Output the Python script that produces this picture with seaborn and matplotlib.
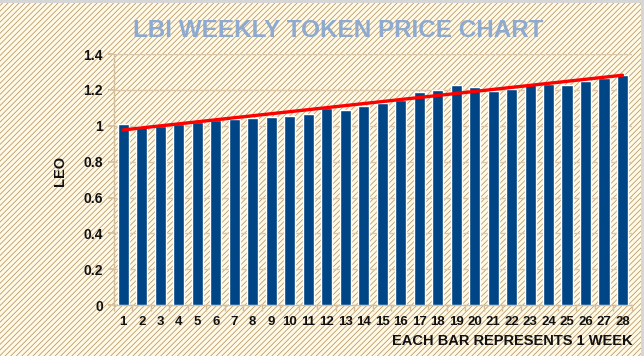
import numpy as np
import pandas as pd
import matplotlib
matplotlib.use("Agg")
import matplotlib.pyplot as plt
from matplotlib.patches import Rectangle
from matplotlib.ticker import FixedLocator
import seaborn as sns

weeks = [str(i) for i in range(1, 29)]
price = [1.01, 1.0, 1.0, 1.01, 1.02, 1.03, 1.04, 1.045, 1.05, 1.057,
         1.064, 1.098, 1.09, 1.112, 1.13, 1.145, 1.186, 1.2, 1.226, 1.219,
         1.195, 1.208, 1.235, 1.235, 1.226, 1.252, 1.266, 1.281]
yticks = [0, 0.2, 0.4, 0.6, 0.8, 1, 1.2, 1.4]
ytick_labels = ["0", "0.2", "0.4", "0.6", "0.8", "1", "1.2", "1.4"]

sns.set_theme(style="white")
plt.rcParams["font.family"] = ["Liberation Sans", "DejaVu Sans"]
plt.rcParams["hatch.linewidth"] = 0.5

df = pd.DataFrame({"week": weeks, "price": price})

fig = plt.figure(figsize=(6.44, 3.56), dpi=100)
fig.patch.set_facecolor("#d6d6d6")
bg = Rectangle((0.0, 0.0), 0.995, 0.992, transform=fig.transFigure,
               facecolor="#fff9e6", edgecolor="#ae8c58", hatch="//////",
               linewidth=0, zorder=-10)
fig.patches.append(bg)

ax = fig.add_axes([0.177, 0.143, 0.804, 0.705])
ax.set_facecolor("none")
sns.barplot(data=df, x="week", y="price", color="#004586", width=0.6,
            saturation=1, ax=ax, zorder=3)

pos = np.arange(len(price))
coef = np.polyfit(pos, price, 1)
trend = np.polyval(coef, pos)
ax.plot(pos, trend, color="#ff0000", linewidth=2.4, zorder=4,
        solid_capstyle="round")

ax.set_ylim(0, 1.4)
ax.set_xlim(-0.5, len(price) - 0.5)
ax.set_yticks(yticks)
ax.set_yticklabels(ytick_labels)
ax.yaxis.grid(True, color="#dcc6a8", linewidth=1.0, zorder=0)
ax.set_axisbelow(True)

for s in ["top", "right"]:
    ax.spines[s].set_visible(False)
for s in ["left", "bottom"]:
    ax.spines[s].set_color("#d6bf9c")
    ax.spines[s].set_linewidth(1.0)

ax.tick_params(axis="y", which="major", direction="out", length=4,
               color="#d6bf9c", labelsize=10, pad=4, left=True)
ax.tick_params(axis="x", which="major", length=0, labelsize=9.5, pad=8)
ax.xaxis.set_minor_locator(FixedLocator(np.arange(-0.5, len(price), 1.0)))
ax.tick_params(axis="x", which="minor", direction="out", length=4,
               color="#d6bf9c", bottom=True)
for lab in ax.get_xticklabels() + ax.get_yticklabels():
    lab.set_fontweight("bold")
    lab.set_color("#111111")

ax.set_xlabel("")
ax.set_ylabel("")
fig.text(0.093, 0.52, "LEO", rotation=90, ha="center", va="center",
         fontsize=10.5, fontweight="bold", color="#111111")
fig.text(0.982, 0.042, "EACH BAR REPRESENTS 1 WEEK", ha="right", va="center",
         fontsize=10.5, fontweight="bold", color="#111111")
fig.text(0.525, 0.915, "LBI WEEKLY TOKEN PRICE CHART", ha="center",
         va="center", fontsize=17.5, fontweight="bold", color="#8eaad0")

fig.savefig("out.png", dpi=100, facecolor=fig.get_facecolor())
